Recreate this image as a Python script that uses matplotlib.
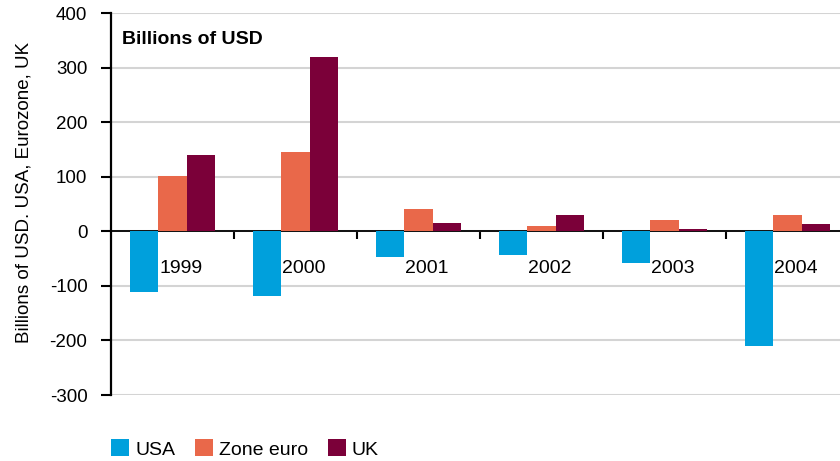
import numpy as np
import matplotlib.pyplot as plt
from matplotlib.ticker import FixedLocator

plt.rcParams['font.family'] = ['Liberation Sans', 'DejaVu Sans']
plt.rcParams['axes.unicode_minus'] = False

years = ["1999", "2000", "2001", "2002", "2003", "2004"]
usa = [-111, -118, -47, -43, -58, -210]
zone_euro = [101, 145, 40, 9, 21, 30]
uk = [140, 319, 16, 29, 4, 13]

series = [("USA", usa, "#00a0dc"),
          ("Zone euro", zone_euro, "#e9684a"),
          ("UK", uk, "#7b0039")]

fig = plt.figure(figsize=(8.4, 4.61), dpi=100)
# axes run slightly past the right edge, as in the original
ax = fig.add_axes([111/840, 1 - 395/461, 738/840, 382/461])

x = np.arange(len(years))
w = 0.233
for k, (name, vals, col) in enumerate(series):
    ax.bar(x + (k - 1) * w, vals, width=w, color=col, label=name, zorder=3)

ax.set_xlim(-0.5, len(years) - 0.5)
ax.set_ylim(-300, 400)
ax.set_yticks(np.arange(-300, 401, 100))
ax.yaxis.grid(True, color="#d4d4d4", linewidth=1.5, zorder=0)
ax.set_axisbelow(True)

for s in ["top", "right"]:
    ax.spines[s].set_visible(False)
ax.spines["left"].set_linewidth(1.6)
ax.spines["bottom"].set_linewidth(1.3)
ax.spines["bottom"].set_position(("data", 0))
ax.spines["bottom"].set_zorder(2.5)

# boundaries between years get the ticks, year labels sit under the zero line
ax.xaxis.set_major_locator(FixedLocator(x[:-1] + 0.5))
ax.xaxis.set_minor_locator(FixedLocator(x + 0.07))
ax.set_xticklabels([], minor=False)
ax.set_xticklabels(years, minor=True)
ax.tick_params(axis="x", which="major", length=6, width=1.5, direction="out")
ax.tick_params(axis="x", which="minor", length=0, pad=21, labelsize=14)
ax.tick_params(axis="y", length=7, width=1.5, labelsize=13.5, pad=10)

ax.set_ylabel("Billions of USD. USA, Eurozone, UK", fontsize=13.5)
ax.yaxis.set_label_coords(-0.106, 0.531)

ax.text(122/840, 1 - 40/461, "Billions of USD", transform=fig.transFigure,
        fontsize=14, fontweight="bold", va="center", ha="left")

fig.legend(loc="center left", bbox_to_anchor=(111/840, 1 - 449/461),
           ncol=3, frameon=False, fontsize=14, handlelength=0.95,
           handleheight=0.95, handletextpad=0.3, columnspacing=1.0,
           borderpad=0, borderaxespad=0)

fig.savefig("out.png", dpi=100)
